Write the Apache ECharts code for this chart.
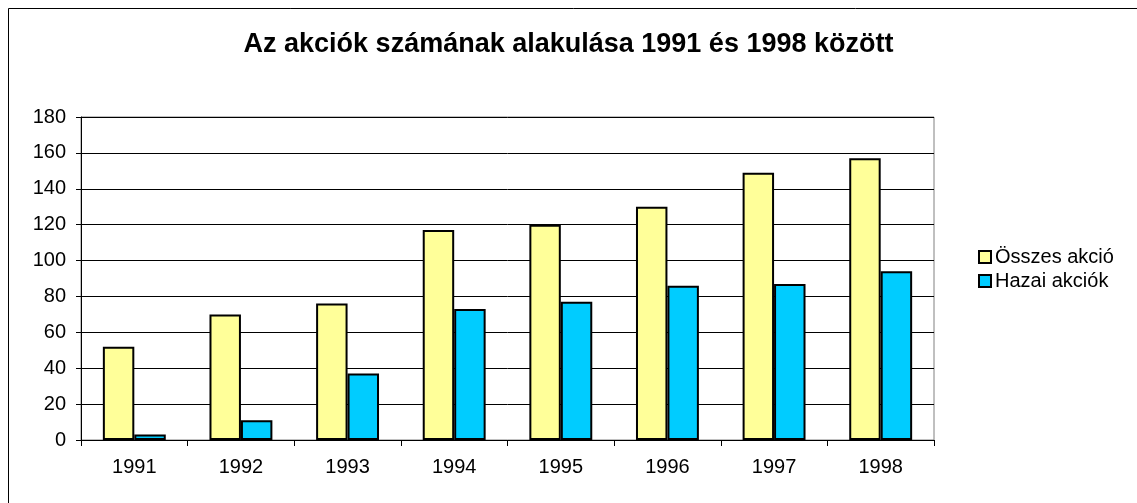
<!DOCTYPE html>
<html><head><meta charset="utf-8">
<script src="https://cdn.jsdelivr.net/npm/echarts@6/dist/echarts.min.js"></script>
<style>html,body{margin:0;padding:0;background:#fff}#c{width:1137px;height:503px}</style>
</head><body><div id="c"></div>
<script>
const categories = ['1991','1992','1993','1994','1995','1996','1997','1998'];
const osszesAkcio = [52, 70, 76, 117, 120, 130, 149, 157];
const hazaiAkciok = [3, 11, 37, 73, 77, 86, 87, 94];
const seriesNames = ['Összes akció', 'Hazai akciók'];
const titleText = 'Az akciók számának alakulása 1991 és 1998 között';

const chart = echarts.init(document.getElementById('c'), null, {renderer:'canvas'});
const font = 'Liberation Sans, Arial, sans-serif';
chart.setOption({
  animation: false,
  backgroundColor: '#fff',
  textStyle: {fontFamily: font},
  title: {text: titleText, left: 'center', top: 31, padding: 0,
    textStyle: {fontFamily: font, fontSize: 27, fontWeight: 'bold', color: '#000'}},
  legend: {
    orient: 'vertical', left: 978, top: 247, itemWidth: 12, itemHeight: 12, itemGap: 4,
    icon: 'rect', padding: 0,
    textStyle: {fontFamily: font, fontSize: 20, color: '#000', padding: [0,0,0,-1]},
    data: seriesNames
  },
  grid: {left: 81, right: 203, top: 117, bottom: 63, show: true, borderColor: '#808080', borderWidth: 1},
  xAxis: {
    type: 'category', data: categories,
    axisLine: {lineStyle: {color: '#000', width: 1}},
    axisTick: {show: true, inside: false, length: 6, alignWithLabel: false, lineStyle: {color: '#000'}},
    axisLabel: {fontFamily: font, fontSize: 20, color: '#000', margin: 17}
  },
  yAxis: {
    type: 'value', min: 0, max: 180, interval: 20,
    axisLine: {show: true, lineStyle: {color: '#000', width: 1}},
    axisTick: {show: true, length: 5, lineStyle: {color: '#000'}},
    axisLabel: {fontFamily: font, fontSize: 20, color: '#000', margin: 15},
    splitLine: {show: true, lineStyle: {color: '#000', width: 1}}
  },
  series: [
    {name: seriesNames[0], type: 'bar', data: osszesAkcio, barGap: '0%', barCategoryGap: '41%',
     itemStyle: {color: '#FFFF99', borderColor: '#000', borderWidth: 2}},
    {name: seriesNames[1], type: 'bar', data: hazaiAkciok, barGap: '0%', barCategoryGap: '41%',
     itemStyle: {color: '#00CCFF', borderColor: '#000', borderWidth: 2}}
  ],
  graphic: [{type: 'rect', shape: {x: 8.5, y: 8.5, width: 1140, height: 510}, style: {fill: null, stroke: '#000', lineWidth: 1}, silent: true, z: 100}]
});
</script></body></html>
